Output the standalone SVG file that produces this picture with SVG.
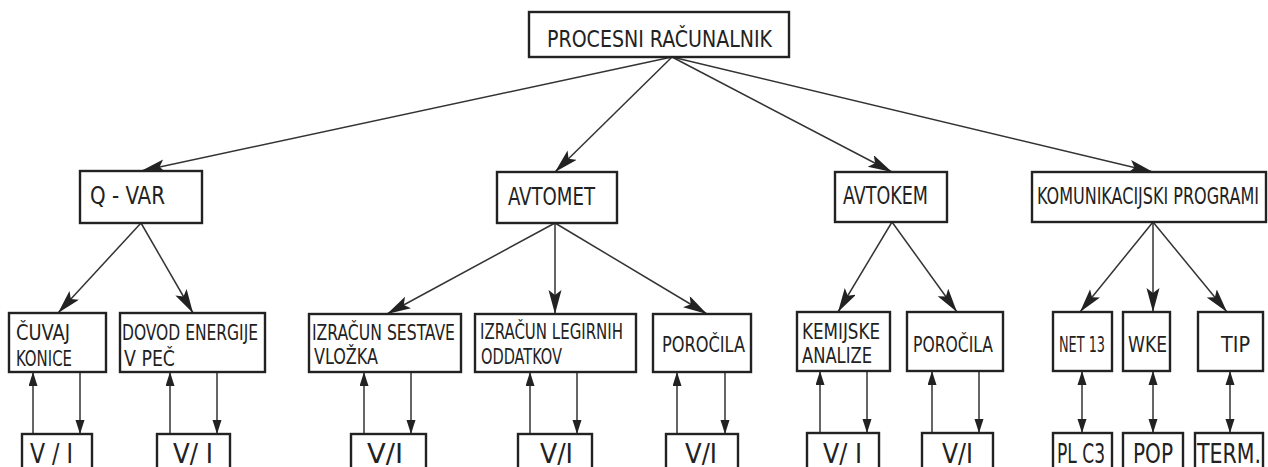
<svg xmlns="http://www.w3.org/2000/svg" width="1268" height="467" viewBox="0 0 1268 467">
<style>
.box{fill:#fff;stroke:#222;stroke-width:2.4}
.t{font-family:"DejaVu Sans Condensed","Liberation Sans",sans-serif;fill:#222;font-weight:normal}
.t1{font-size:23px}
.t2{font-size:24px}
.t3{font-size:21px}
.t4{font-size:26px}
.ln{stroke:#333;stroke-width:1.5;fill:none}
</style>
<defs>
<marker id="big" markerUnits="userSpaceOnUse" markerWidth="26" markerHeight="14" refX="24" refY="6.5" orient="auto">
<path d="M0,0 L24,6.5 L0,13 L5,6.5 Z" fill="#222"/>
</marker>
<marker id="sm" markerUnits="userSpaceOnUse" markerWidth="16" markerHeight="10" refX="14" refY="4.5" orient="auto">
<path d="M0,0 L14,4.5 L0,9 Z" fill="#222"/>
</marker>
<marker id="smS" markerUnits="userSpaceOnUse" markerWidth="16" markerHeight="10" refX="0" refY="4.5" orient="auto">
<path d="M14,0 L0,4.5 L14,9 Z" fill="#222"/>
</marker>
</defs>

<g id="connectors">
<path class="ln" d="M672,57 L141,171" marker-end="url(#big)"/>
<path class="ln" d="M672,57 L555,172" marker-end="url(#big)"/>
<path class="ln" d="M672,57 L892,172" marker-end="url(#big)"/>
<path class="ln" d="M672,57 L1153,172" marker-end="url(#big)"/>

<path class="ln" d="M141,223 L58,313" marker-end="url(#big)"/>
<path class="ln" d="M141,223 L193,313" marker-end="url(#big)"/>
<path class="ln" d="M555,223 L387,314" marker-end="url(#big)"/>
<path class="ln" d="M555,223 L555,314" marker-end="url(#big)"/>
<path class="ln" d="M555,223 L707,314" marker-end="url(#big)"/>
<path class="ln" d="M892,222 L838,312" marker-end="url(#big)"/>
<path class="ln" d="M892,222 L957,312" marker-end="url(#big)"/>
<path class="ln" d="M1153,222 L1080,312" marker-end="url(#big)"/>
<path class="ln" d="M1153,222 L1153,312" marker-end="url(#big)"/>
<path class="ln" d="M1153,222 L1227,312" marker-end="url(#big)"/>

<path class="ln" d="M33,434 L33,372" marker-end="url(#sm)"/>
<path class="ln" d="M80,372 L80,434" marker-end="url(#sm)"/>
<path class="ln" d="M170,434 L170,372" marker-end="url(#sm)"/>
<path class="ln" d="M217,372 L217,434" marker-end="url(#sm)"/>
<path class="ln" d="M364,434 L364,372" marker-end="url(#sm)"/>
<path class="ln" d="M411,372 L411,434" marker-end="url(#sm)"/>
<path class="ln" d="M530,434 L530,372" marker-end="url(#sm)"/>
<path class="ln" d="M577,372 L577,434" marker-end="url(#sm)"/>
<path class="ln" d="M677,434 L677,372" marker-end="url(#sm)"/>
<path class="ln" d="M725,372 L725,434" marker-end="url(#sm)"/>
<path class="ln" d="M820,433 L820,371" marker-end="url(#sm)"/>
<path class="ln" d="M867,371 L867,433" marker-end="url(#sm)"/>
<path class="ln" d="M932,433 L932,371" marker-end="url(#sm)"/>
<path class="ln" d="M979,371 L979,433" marker-end="url(#sm)"/>
<path class="ln" d="M1082,371 L1082,433" marker-start="url(#smS)" marker-end="url(#sm)"/>
<path class="ln" d="M1153,371 L1153,433" marker-start="url(#smS)" marker-end="url(#sm)"/>
<path class="ln" d="M1230,371 L1230,433" marker-start="url(#smS)" marker-end="url(#sm)"/>
</g>

<g id="n-procesni">
<rect class="box" x="529" y="12" width="260" height="45"/>
<text class="t t1" x="547" y="47" textLength="225" lengthAdjust="spacingAndGlyphs">PROCESNI  RAČUNALNIK</text>
</g>

<g id="n-qvar">
<rect class="box" x="80" y="171" width="122" height="52"/>
<text class="t t2" x="90" y="204" textLength="75" lengthAdjust="spacingAndGlyphs">Q - VAR</text>
</g>
<g id="n-avtomet">
<rect class="box" x="497" y="172" width="120" height="51"/>
<text class="t t2" x="508" y="205" textLength="87" lengthAdjust="spacingAndGlyphs">AVTOMET</text>
</g>
<g id="n-avtokem">
<rect class="box" x="835" y="172" width="112" height="50"/>
<text class="t t2" x="843" y="204" textLength="85" lengthAdjust="spacingAndGlyphs">AVTOKEM</text>
</g>
<g id="n-komunikacijski">
<rect class="box" x="1032" y="172" width="234" height="50"/>
<text class="t" font-size="16" transform="translate(1037,204) scale(1,1.45)" x="0" y="0" textLength="222" lengthAdjust="spacingAndGlyphs">KOMUNIKACIJSKI PROGRAMI</text>
</g>

<g id="n-cuvaj">
<rect class="box" x="9" y="313" width="97" height="59"/>
<text class="t t3" x="16" y="340" textLength="54" lengthAdjust="spacingAndGlyphs">ČUVAJ</text>
<text class="t t3" x="16" y="366" textLength="56" lengthAdjust="spacingAndGlyphs">KONICE</text>
</g>
<g id="n-dovod">
<rect class="box" x="120" y="313" width="145" height="59"/>
<text class="t t3" x="122" y="340" textLength="136" lengthAdjust="spacingAndGlyphs">DOVOD ENERGIJE</text>
<text class="t t3" x="124" y="366" textLength="51" lengthAdjust="spacingAndGlyphs">V PEČ</text>
</g>
<g id="n-izracun-sestave">
<rect class="box" x="309" y="314" width="152" height="58"/>
<text class="t t3" x="312" y="340" textLength="143" lengthAdjust="spacingAndGlyphs">IZRAČUN SESTAVE</text>
<text class="t t3" x="314" y="364" textLength="64" lengthAdjust="spacingAndGlyphs">VLOŽKA</text>
</g>
<g id="n-izracun-legirnih">
<rect class="box" x="475" y="314" width="161" height="58"/>
<text class="t t3" x="480" y="339" textLength="143" lengthAdjust="spacingAndGlyphs">IZRAČUN LEGIRNIH</text>
<text class="t t3" x="481" y="364" textLength="81" lengthAdjust="spacingAndGlyphs">ODDATKOV</text>
</g>
<g id="n-porocila1">
<rect class="box" x="653" y="314" width="98" height="58"/>
<text class="t t3" x="662" y="352" textLength="83" lengthAdjust="spacingAndGlyphs">POROČILA</text>
</g>
<g id="n-kemijske">
<rect class="box" x="797" y="312" width="93" height="59"/>
<text class="t t3" x="802" y="339" textLength="78" lengthAdjust="spacingAndGlyphs">KEMIJSKE</text>
<text class="t t3" x="802" y="363" textLength="70" lengthAdjust="spacingAndGlyphs">ANALIZE</text>
</g>
<g id="n-porocila2">
<rect class="box" x="907" y="312" width="96" height="59"/>
<text class="t t3" x="913" y="352" textLength="80" lengthAdjust="spacingAndGlyphs">POROČILA</text>
</g>
<g id="n-net13">
<rect class="box" x="1053" y="312" width="59" height="59"/>
<text class="t t3" x="1059" y="352" textLength="46" lengthAdjust="spacingAndGlyphs">NET 13</text>
</g>
<g id="n-wke">
<rect class="box" x="1123" y="312" width="47" height="59"/>
<text class="t t3" x="1128" y="352" textLength="39" lengthAdjust="spacingAndGlyphs">WKE</text>
</g>
<g id="n-tip">
<rect class="box" x="1198" y="312" width="65" height="59"/>
<text class="t t3" x="1221" y="352" textLength="29" lengthAdjust="spacingAndGlyphs">TIP</text>
</g>

<g id="n-vi1">
<rect class="box" x="22" y="434" width="70" height="40"/>
<text class="t t4" x="30" y="463" textLength="43" lengthAdjust="spacingAndGlyphs">V / I</text>
</g>
<g id="n-vi2">
<rect class="box" x="157" y="434" width="73" height="40"/>
<text class="t t4" x="173" y="463" textLength="40" lengthAdjust="spacingAndGlyphs">V/ I</text>
</g>
<g id="n-vi3">
<rect class="box" x="351" y="434" width="75" height="40"/>
<text class="t t4" x="367" y="463" textLength="36" lengthAdjust="spacingAndGlyphs">V/I</text>
</g>
<g id="n-vi4">
<rect class="box" x="518" y="434" width="74" height="40"/>
<text class="t t4" x="540" y="463" textLength="33" lengthAdjust="spacingAndGlyphs">V/I</text>
</g>
<g id="n-vi5">
<rect class="box" x="666" y="434" width="72" height="40"/>
<text class="t t4" x="685" y="463" textLength="32" lengthAdjust="spacingAndGlyphs">V/I</text>
</g>
<g id="n-vi6">
<rect class="box" x="807" y="433" width="72" height="40"/>
<text class="t t4" x="823" y="463" textLength="39" lengthAdjust="spacingAndGlyphs">V/ I</text>
</g>
<g id="n-vi7">
<rect class="box" x="922" y="433" width="71" height="40"/>
<text class="t t4" x="942" y="463" textLength="31" lengthAdjust="spacingAndGlyphs">V/I</text>
</g>
<g id="n-plc3">
<rect class="box" x="1053" y="433" width="59" height="40"/>
<text class="t t4" x="1057" y="463" textLength="48" lengthAdjust="spacingAndGlyphs">PL C3</text>
</g>
<g id="n-pop">
<rect class="box" x="1123" y="433" width="60" height="40"/>
<text class="t t4" x="1133" y="463" textLength="40" lengthAdjust="spacingAndGlyphs">POP</text>
</g>
<g id="n-term">
<rect class="box" x="1195" y="433" width="68" height="40"/>
<text class="t t4" x="1197" y="463" textLength="64" lengthAdjust="spacingAndGlyphs">TERM.</text>
</g>
</svg>
